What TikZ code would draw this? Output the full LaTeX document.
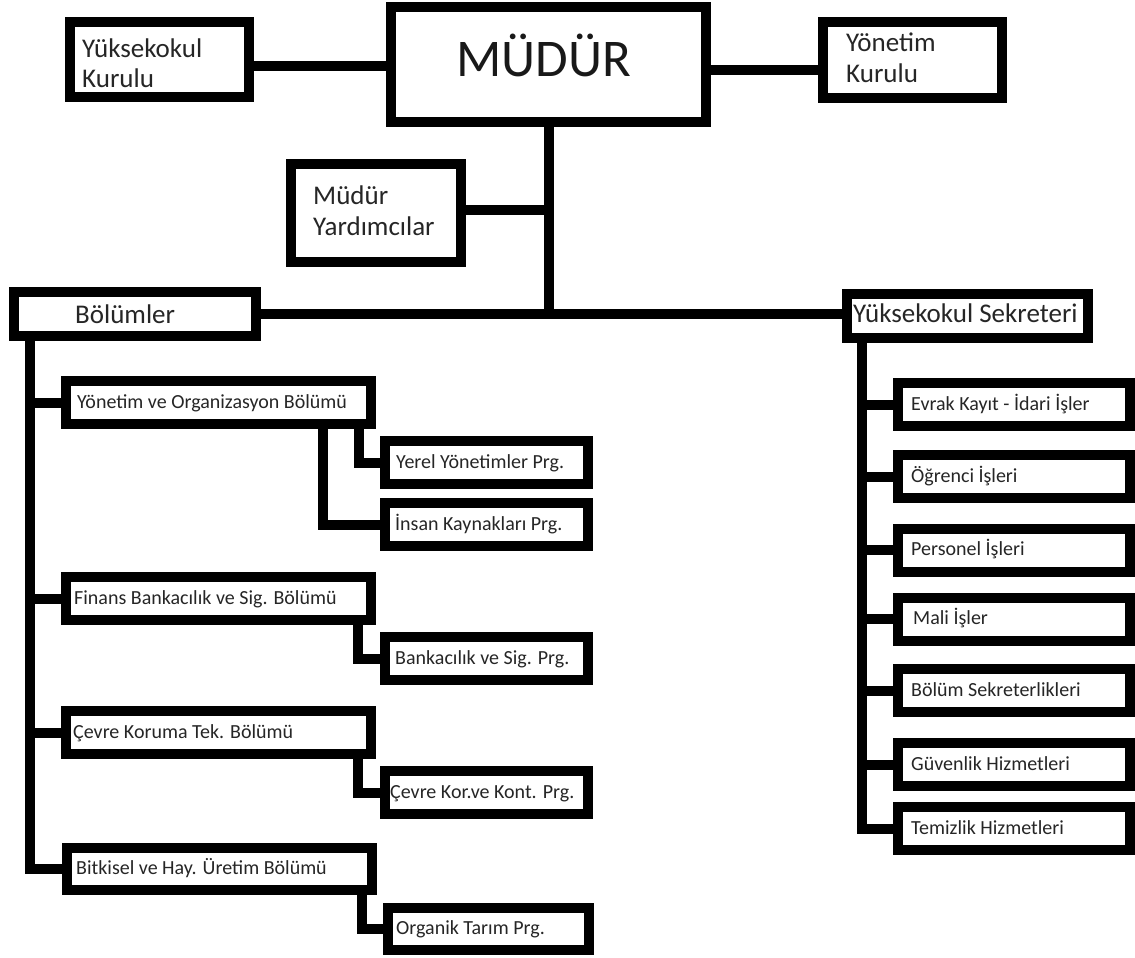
\documentclass[tikz,border=0pt]{standalone}
\usepackage{fontspec}
\setmainfont{Carlito}
\begin{document}
\begin{tikzpicture}[x=1pt,y=-1pt,
  box/.style={draw=black, line width=10pt, rectangle, inner sep=0pt, fill=white},
  conn/.style={draw=black, line width=10pt, line cap=butt, line join=miter},
  big/.style={anchor=base west, inner sep=0pt, text=black!85, font=\fontsize{27}{31}\selectfont},
  small/.style={anchor=base west, inner sep=0pt, text=black!85, font=\fontsize{20}{22}\selectfont},
  prg/.style={box, minimum width=203pt, minimum height=43pt},
  dept/.style={box, minimum width=305pt, minimum height=43pt},
  unit/.style={box, minimum width=232pt, minimum height=43pt}]
\useasboundingbox[fill=white] (0,0) rectangle (1135,958);
\coordinate (ltrunk) at (30,0);
\coordinate (rtrunk) at (862,0);

% top level boxes
\node[box, minimum width=315pt, minimum height=115pt] (mudur) at (548.5,64.5) {};
\node[box, minimum width=179pt, minimum height=75pt] (yk) at (159.5,59.5) {};
\node[box, minimum width=179pt, minimum height=76pt] (yonk) at (912.5,60) {};
\node[box, minimum width=170pt, minimum height=98pt] (yard) at (376,213) {};
\node[box, minimum width=242pt, minimum height=44pt] (bol) at (135,314) {};
\node[box, minimum width=241pt, minimum height=44pt] (sek) at (967.5,316) {};

% departments
\node[dept] (yo) at (218.5,402.5) {};
\node[prg] (yer) at (486.5,462.5) {};
\node[prg] (ins) at (486.5,524.5) {};
\node[dept] (fin) at (218.5,598.5) {};
\node[prg] (ban) at (486.5,658.5) {};
\node[dept] (cev) at (218.5,732.5) {};
\node[prg] (cko) at (486.5,792.5) {};
\node[dept, minimum height=42pt] (bit) at (219.5,869) {};
\node[prg, minimum width=201pt, minimum height=42pt] (org) at (488.5,929) {};

% secretary units
\node[unit] (evr) at (1014,404.5) {};
\node[unit] (ogr) at (1014,476.5) {};
\node[unit] (per) at (1014,550) {};
\node[unit] (mal) at (1014,619) {};
\node[unit] (bsk) at (1014,690.5) {};
\node[unit] (guv) at (1014,764.5) {};
\node[unit] (tem) at (1014,828.5) {};

% connectors
\draw[conn] (yk.east |- 0,66) -- (mudur.west |- 0,66);
\draw[conn] (mudur.east |- 0,70) -- (yonk.west |- 0,70);
\draw[conn] (mudur.south) -- (mudur.south |- bol.east);
\draw[conn] (yard.east |- 0,210) -- (mudur.south |- 0,210);
\draw[conn] (bol.east) -- (sek.west |- bol.east);

\draw[conn] (bol.south -| ltrunk) |- (bit.west);
\draw[conn] (ltrunk |- yo.west) -- (yo.west);
\draw[conn] (ltrunk |- fin.west) -- (fin.west);
\draw[conn] (ltrunk |- cev.west) -- (cev.west);
\draw[conn] (yo.south -| 359,0) |- (yer.west);
\draw[conn] (yo.south -| 323,0) |- (ins.west);
\draw[conn] (fin.south -| 358,0) |- (ban.west);
\draw[conn] (cev.south -| 358,0) |- (cko.west);
\draw[conn] (bit.south -| 362,0) |- (org.west);

\draw[conn] (sek.south -| rtrunk) |- (tem.west);
\draw[conn] (rtrunk |- evr.west) -- (evr.west);
\draw[conn] (rtrunk |- ogr.west) -- (ogr.west);
\draw[conn] (rtrunk |- per.west) -- (per.west);
\draw[conn] (rtrunk |- mal.west) -- (mal.west);
\draw[conn] (rtrunk |- bsk.west) -- (bsk.west);
\draw[conn] (rtrunk |- guv.west) -- (guv.west);

% texts
\node[anchor=base, inner sep=0pt, text=black!90, font=\fontsize{53}{60}\selectfont] (tmudur) at (543.5,77) {MÜDÜR};
\node[big] (tyk1) at (82,58) {Yüksekokul};
\node[big] (tyk2) at (82,87) {Kurulu};
\node[big] (tyonk1) at (846,52) {Yönetim};
\node[big] (tyonk2) at (846,82) {Kurulu};
\node[big] (tyard1) at (313,204) {Müdür};
\node[big] (tyard2) at (313,235) {Yardımcılar};
\node[big] (tbol) at (75,323) {Bölümler};
\node[big] (tsek) at (853,322) {Yüksekokul Sekreteri};

\node[small] (tyo) at (77,408) {Yönetim ve Organizasyon Bölümü};
\node[small] (tyer) at (396,468) {Yerel Yönetimler Prg.};
\node[small] (tins) at (395,530) {İnsan Kaynakları Prg.};
\node[small] (tfin) at (74,604) {Finans Bankacılık ve Sig. Bölümü};
\node[small] (tban) at (395,664) {Bankacılık ve Sig. Prg.};
\node[small] (tcev) at (73,738) {Çevre Koruma Tek. Bölümü};
\node[small] (tcko) at (390,798) {Çevre Kor.ve Kont. Prg.};
\node[small] (tbit) at (76,874.5) {Bitkisel ve Hay. Üretim Bölümü};
\node[small] (torg) at (396,934.5) {Organik Tarım Prg.};

\node[small] (tevr) at (911,410) {Evrak Kayıt - İdari İşler};
\node[small] (togr) at (911,482) {Öğrenci İşleri};
\node[small] (tper) at (911,555.5) {Personel İşleri};
\node[small] (tmal) at (913,624.5) {Mali İşler};
\node[small] (tbsk) at (911,696) {Bölüm Sekreterlikleri};
\node[small] (tguv) at (911,770) {Güvenlik Hizmetleri};
\node[small] (ttem) at (911,834) {Temizlik Hizmetleri};
\end{tikzpicture}
\end{document}
